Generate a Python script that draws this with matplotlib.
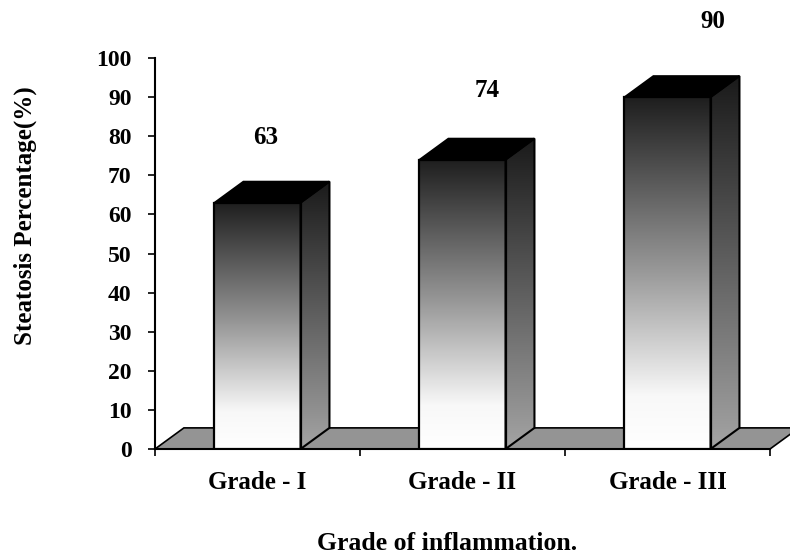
import numpy as np
import matplotlib
matplotlib.use("Agg")
import matplotlib.pyplot as plt
from matplotlib.patches import Polygon
from matplotlib.colors import LinearSegmentedColormap

# Data
categories = ["Grade - I", "Grade - II", "Grade - III"]
values = [63, 74, 90]
yticks = [0, 10, 20, 30, 40, 50, 60, 70, 80, 90, 100]

plt.rcParams["font.family"] = ["Liberation Serif", "DejaVu Serif"]
plt.rcParams["font.weight"] = "bold"

fig = plt.figure(figsize=(7.9, 5.57), dpi=100)
ax = fig.add_axes([155 / 790, 1 - 449 / 557, 615 / 790, 391 / 557])

# pseudo-3D depth offsets in data units
DX = 0.141
DY = 5.4
HALF_W = 0.21

front_cmap = LinearSegmentedColormap.from_list(
    "front", [(0.0, "#1e1e1e"), (0.5, "#9a9a9a"), (0.85, "#f8f8f8"), (1.0, "#ffffff")])
side_cmap = LinearSegmentedColormap.from_list(
    "side", [(0.0, "#1a1a1a"), (1.0, "#a4a4a4")])
grad = np.linspace(0, 1, 256).reshape(-1, 1)

n = len(categories)

# floor
floor = Polygon([(0, 0), (n, 0), (n + DX, DY), (DX, DY)], closed=True,
                facecolor="#949494", edgecolor="black", lw=1.2,
                clip_on=False, zorder=1)
ax.add_patch(floor)

for i, v in enumerate(values):
    cx = i + 0.5
    x0, x1 = cx - HALF_W, cx + HALF_W
    # front face with vertical gradient
    ax.imshow(grad, cmap=front_cmap, extent=[x0, x1, 0, v], aspect="auto",
              interpolation="bilinear", origin="upper", zorder=3)
    ax.add_patch(Polygon([(x0, 0), (x1, 0), (x1, v), (x0, v)], closed=True,
                         facecolor="none", edgecolor="black", lw=1.6, zorder=4))
    # right side face
    side_pts = [(x1, 0), (x1 + DX, DY), (x1 + DX, v + DY), (x1, v)]
    side_clip = Polygon(side_pts, closed=True, facecolor="none",
                        edgecolor="black", lw=1.5, zorder=4)
    ax.add_patch(side_clip)
    im = ax.imshow(grad, cmap=side_cmap, extent=[x1, x1 + DX, 0, v + DY],
                   aspect="auto", interpolation="bilinear", origin="upper", zorder=3)
    im.set_clip_path(side_clip)
    # top face
    ax.add_patch(Polygon([(x0, v), (x1, v), (x1 + DX, v + DY), (x0 + DX, v + DY)],
                         closed=True, facecolor="black", edgecolor="black",
                         lw=1.2, zorder=4))

# value labels above bars
label_dx = [8, 25, 45]
label_dy = [65, 69, 76]
for i, v in enumerate(values):
    ax.annotate(f"{v}", xy=(i + 0.5, v), xytext=(label_dx[i], label_dy[i]),
                textcoords="offset pixels", ha="center", va="center",
                fontsize=18, fontweight="bold")

ax.set_xlim(0, n)
ax.set_ylim(0, 100)
ax.set_yticks(yticks)
ax.set_yticklabels([str(t) for t in yticks], fontsize=17, fontweight="bold")
ax.set_xticks(np.arange(n + 1))
ax.set_xticklabels([])
ax.set_xticks(np.arange(n) + 0.5, minor=True)
ax.set_xticklabels(categories, minor=True, fontsize=18, fontweight="bold")
ax.tick_params(axis="x", which="minor", length=0, pad=16)
ax.tick_params(axis="x", which="major", length=5, width=1.2, direction="out")
ax.tick_params(axis="y", length=5, width=1.2, direction="out", pad=12)

for s in ["top", "right"]:
    ax.spines[s].set_visible(False)
ax.spines["left"].set_linewidth(1.5)
ax.spines["bottom"].set_linewidth(1.5)
ax.patch.set_alpha(0)

ax.set_ylabel("Steatosis Percentage(%)", fontsize=18, fontweight="bold")
ax.yaxis.set_label_coords(-0.192, 0.596)
ax.set_xlabel("Grade of inflammation.", fontsize=18.5, fontweight="bold")
ax.xaxis.set_label_coords(0.475, -0.212)

fig.savefig("out.png", dpi=100)
